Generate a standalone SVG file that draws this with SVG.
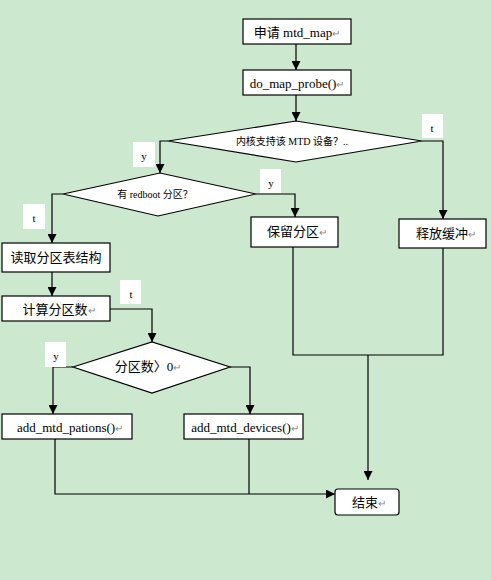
<svg xmlns="http://www.w3.org/2000/svg" width="491" height="580" viewBox="0 0 491 580">
<style>
.bg{fill:#CCE8CF}
.box{fill:#fff;stroke:#000;stroke-width:1.2}
.lbl{fill:#fff;stroke:none}
.t{font-family:"Liberation Serif","Noto Sans CJK SC",serif;font-size:13px;fill:#000;text-anchor:middle}
.s{font-size:10px}
.ret{fill:#888;font-size:10px}
.ln{fill:none;stroke:#000;stroke-width:1.2}
.yn{font-family:"Liberation Serif",serif;font-size:11px;fill:#000;text-anchor:middle}
</style>
<defs>
<marker id="ah" markerWidth="9" markerHeight="9" refX="9" refY="4.5" orient="auto" markerUnits="userSpaceOnUse">
<path d="M0,0 L9,4.5 L0,9 Z" fill="#000"/>
</marker>
</defs>
<rect class="bg" x="0" y="0" width="491" height="580"/>
<g id="connectors">
<path class="ln" d="M296,44 V70" marker-end="url(#ah)"/>
<path class="ln" d="M296,95 V121" marker-end="url(#ah)"/>
<path class="ln" d="M168,141 H160 V173" marker-end="url(#ah)"/>
<path class="ln" d="M422,141 H443 V219" marker-end="url(#ah)"/>
<path class="ln" d="M63,194 H52 V243" marker-end="url(#ah)"/>
<path class="ln" d="M256,194 H295 V217" marker-end="url(#ah)"/>
<path class="ln" d="M52,272 V296" marker-end="url(#ah)"/>
<path class="ln" d="M110,309 H152 V342" marker-end="url(#ah)"/>
<path class="ln" d="M73,367 H53 V414" marker-end="url(#ah)"/>
<path class="ln" d="M230,367 H250 V414" marker-end="url(#ah)"/>
<path class="ln" d="M293,247 V355 H443 V248"/>
<path class="ln" d="M368,355 V480" marker-end="url(#ah)"/>
<path class="ln" d="M55,439 V494 H335" marker-end="url(#ah)"/>
<path class="ln" d="M249,439 V494"/>
</g>
<g id="labels">
<rect class="lbl" x="422" y="114" width="21" height="24"/><text class="yn" x="432" y="132">t</text>
<rect class="lbl" x="133" y="142" width="22" height="25"/><text class="yn" x="144" y="160">y</text>
<rect class="lbl" x="260" y="169" width="21" height="24"/><text class="yn" x="271" y="187">y</text>
<rect class="lbl" x="23" y="204" width="22" height="25"/><text class="yn" x="34" y="222">t</text>
<rect class="lbl" x="120" y="280" width="21" height="24"/><text class="yn" x="131" y="298">t</text>
<rect class="lbl" x="45" y="342" width="21" height="25"/><text class="yn" x="56" y="360">y</text>
</g>
<g id="n1"><rect class="box" x="243" y="19" width="108" height="25"/><text class="t" x="297" y="37">申请 mtd_map<tspan class="ret">↵</tspan></text></g>
<g id="n2"><rect class="box" x="243" y="70" width="108" height="25"/><text class="t" x="297" y="88">do_map_probe()<tspan class="ret">↵</tspan></text></g>
<g id="d1"><polygon class="box" points="168,141 296,121 422,141 296,162"/><text class="t s" x="292" y="145">内核支持该 MTD 设备？..</text></g>
<g id="d2"><polygon class="box" points="63,194 160,173 256,194 158,216"/><text class="t s" x="155" y="198">有 redboot 分区？</text></g>
<g id="n3"><rect class="box" x="251" y="217" width="87" height="30"/><text class="t" x="297" y="236">保留分区<tspan class="ret">↵</tspan></text></g>
<g id="n4"><rect class="box" x="399" y="219" width="87" height="29"/><text class="t" x="446" y="238">释放缓冲<tspan class="ret">↵</tspan></text></g>
<g id="n5"><rect class="box" x="2" y="243" width="108" height="29"/><text class="t" x="56" y="262">读取分区表结构</text></g>
<g id="n6"><rect class="box" x="2" y="296" width="108" height="25"/><text class="t" x="59" y="314">计算分区数<tspan class="ret">↵</tspan></text></g>
<g id="d3"><polygon class="box" points="73,367 152,342 230,367 152,393"/><text class="t" x="148" y="371">分区数〉0<tspan class="ret">↵</tspan></text></g>
<g id="n7"><rect class="box" x="2" y="414" width="130" height="25"/><text class="t" x="70" y="432">add_mtd_pations()<tspan class="ret">↵</tspan></text></g>
<g id="n8"><rect class="box" x="184" y="414" width="119" height="25"/><text class="t" x="245" y="432">add_mtd_devices()<tspan class="ret">↵</tspan></text></g>
<g id="n9"><rect class="box" x="335" y="489" width="64" height="26" rx="3"/><text class="t" x="369" y="507">结束<tspan class="ret">↵</tspan></text></g>
</svg>
